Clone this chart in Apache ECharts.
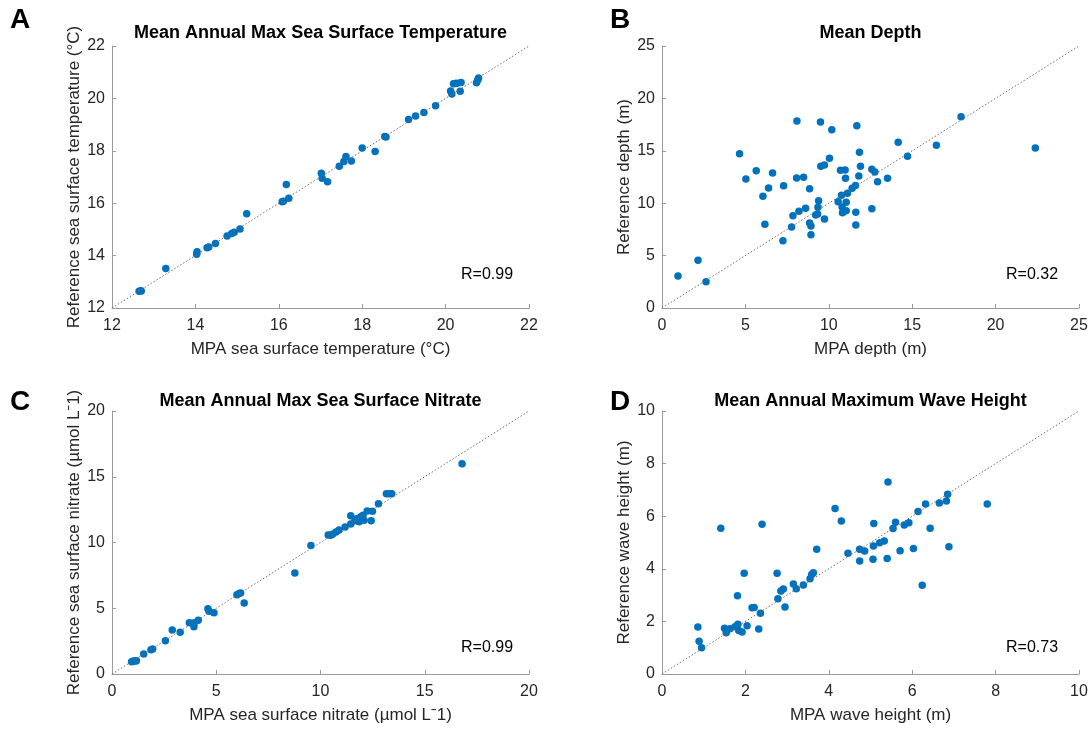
<!DOCTYPE html>
<html><head><meta charset="utf-8">
<script src="https://cdn.jsdelivr.net/npm/echarts@6/dist/echarts.min.js"></script>
<style>html,body{margin:0;padding:0;background:#fff}#c{width:1090px;height:729px}</style>
</head><body><div id="c"></div>
<script>
// ---------- Panel A: sea surface temperature ----------
const sstMPA = [12.65,12.69,12.70,13.29,14.03,14.04,14.28,14.32,14.48,14.76,14.87,14.93,15.07,15.23,16.08,16.11,16.24,16.18,17.02,17.04,17.17,17.45,17.56,17.61,17.74,18.00,18.31,18.54,18.57,19.11,19.28,19.48,19.76,20.12,20.15,20.19,20.23,20.27,20.37,20.35,20.74,20.79,20.77];
const sstRef = [12.64,12.66,12.65,13.51,14.05,14.15,14.30,14.33,14.46,14.75,14.84,14.89,15.02,15.60,16.06,16.07,16.19,16.71,17.14,16.95,16.82,17.41,17.59,17.78,17.61,18.11,17.97,18.55,18.53,19.19,19.33,19.46,19.72,20.28,20.17,20.56,20.57,20.58,20.61,20.27,20.60,20.78,20.70];
// ---------- Panel B: depth ----------
const depthMPA = [0.96,2.16,2.64,4.65,5.03,5.65,6.05,6.17,6.39,6.63,7.25,7.29,7.77,7.85,8.07,8.09,8.21,8.49,8.61,8.85,8.85,8.93,8.93,9.21,9.33,9.35,9.39,9.50,9.52,9.74,9.74,10.04,10.18,10.56,10.70,10.76,10.80,10.82,10.98,11.00,11.04,11.04,11.12,11.40,11.60,11.62,11.62,11.68,11.80,11.84,11.90,12.58,12.58,12.76,12.92,13.52,14.16,14.72,16.45,17.93,22.38];
const depthRef = [3.05,4.55,2.51,14.73,12.31,13.10,10.66,7.98,11.45,12.88,6.42,11.67,7.73,8.81,12.40,17.84,9.22,12.47,9.51,11.39,8.11,7.82,7.00,8.87,8.97,9.61,10.24,17.75,13.52,13.64,8.49,14.28,17.02,10.15,13.14,10.75,9.64,9.10,13.17,12.37,10.08,9.29,10.94,11.42,11.70,9.13,7.92,17.40,12.60,14.85,13.52,13.23,9.48,12.98,12.05,12.37,15.81,14.47,15.52,18.26,15.27];
// ---------- Panel C: nitrate ----------
const no3MPA = [0.94,1.02,1.12,1.17,1.52,1.87,1.95,2.56,2.89,3.27,3.71,3.93,3.95,4.14,4.60,4.65,4.89,5.99,6.10,6.17,6.34,8.77,9.54,10.37,10.48,10.58,10.74,10.89,11.18,11.45,11.45,11.65,11.73,11.85,11.93,12.04,12.09,12.24,12.43,12.49,12.78,13.16,13.28,13.42,16.79];
const no3Ref = [0.94,0.99,0.99,1.01,1.52,1.85,1.90,2.53,3.35,3.17,3.90,3.60,3.90,4.08,4.97,4.77,4.66,6.03,6.13,6.16,5.40,7.68,9.78,10.57,10.55,10.62,10.80,10.95,11.18,12.04,11.41,11.66,11.81,11.58,11.96,12.07,11.69,12.40,11.66,12.37,12.95,13.71,13.71,13.71,15.99];
// ---------- Panel D: wave height ----------
const waveMPA = [0.86,0.89,0.95,1.41,1.50,1.54,1.63,1.75,1.81,1.82,1.84,1.92,1.97,2.04,2.16,2.21,2.32,2.36,2.40,2.76,2.78,2.85,2.91,2.95,3.15,3.22,3.39,3.55,3.59,3.63,3.71,4.15,4.30,4.46,4.74,4.74,4.86,5.06,5.07,5.08,5.22,5.33,5.40,5.42,5.54,5.60,5.71,5.81,5.92,6.03,6.14,6.24,6.32,6.43,6.65,6.82,6.85,6.88,7.80];
const waveRef = [1.79,1.25,1.00,5.54,1.74,1.57,1.72,1.80,2.98,1.89,1.65,1.60,3.83,1.83,2.52,2.53,1.71,2.31,5.69,3.83,2.86,3.16,3.23,2.55,3.42,3.24,3.38,3.62,3.78,3.85,4.74,6.29,5.82,4.59,4.30,4.74,4.68,4.36,4.87,5.72,4.99,5.06,4.39,7.30,5.53,5.77,4.69,5.67,5.75,4.77,6.18,3.37,6.46,5.54,6.50,6.58,6.83,4.84,6.46];

// ---------- tick labels ----------
const ticksA = [12,14,16,18,20,22];
const ticksB = [0,5,10,15,20,25];
const ticksC = [0,5,10,15,20];
const ticksD = [0,2,4,6,8,10];

// ---------- texts ----------
const titles = ['Mean Annual Max Sea Surface Temperature','Mean Depth','Mean Annual Max Sea Surface Nitrate','Mean Annual Maximum Wave Height'];
const letters = ['A','B','C','D'];
const rLabels = ['R=0.99','R=0.32','R=0.99','R=0.73'];
const xNames = ['MPA sea surface temperature (°C)','MPA depth (m)','MPA sea surface nitrate (µmol L\u02C91)','MPA wave height (m)'];
const yNames = ['Reference sea surface temperature (°C)','Reference depth (m)','Reference sea surface nitrate (µmol L\u02C91)','Reference wave height (m)'];

const FONT = "'Liberation Sans', Arial, Helvetica, sans-serif";
const AXC = '#9a9a9a', TXC = '#262626';
const panels = [
  {x: sstMPA, y: sstRef, t: ticksA},
  {x: depthMPA, y: depthRef, t: ticksB},
  {x: no3MPA, y: no3Ref, t: ticksC},
  {x: waveMPA, y: waveRef, t: ticksD}
];
const gridBoxes = [
  {left: 112, top: 46, width: 417, height: 262},
  {left: 662, top: 46, width: 417, height: 262},
  {left: 112, top: 411, width: 417, height: 263},
  {left: 662, top: 411, width: 417, height: 263}
];

function axisCommon(t) {
  return {
    type: 'value', min: t[0], max: t[t.length - 1], interval: t[1] - t[0],
    splitLine: {show: false},
    axisLine: {show: true, onZero: false, lineStyle: {color: AXC, width: 1}},
    axisTick: {show: true, inside: true, length: 4, lineStyle: {color: AXC, width: 1}},
    axisLabel: {color: TXC, fontSize: 16, fontFamily: FONT, showMinLabel: true, showMaxLabel: true},
    nameLocation: 'middle',
    nameMoveOverlap: false,
    nameTextStyle: {color: TXC, fontSize: 17, fontFamily: FONT}
  };
}

const xAxis = [], yAxis = [], series = [], grid = [];
panels.forEach((p, i) => {
  grid.push(Object.assign({containLabel: false, outerBoundsMode: 'none'}, gridBoxes[i]));
  const xa = axisCommon(p.t);
  xa.gridIndex = i; xa.name = xNames[i]; xa.nameGap = 33;
  xa.axisLabel.margin = 10;
  xAxis.push(xa);
  const ya = axisCommon(p.t);
  ya.gridIndex = i; ya.name = yNames[i]; ya.nameGap = 29;
  ya.axisLabel.margin = 7;
  yAxis.push(ya);
  series.push({
    type: 'scatter', xAxisIndex: i, yAxisIndex: i,
    symbol: 'circle', symbolSize: 7.5,
    itemStyle: {color: '#0072BD', opacity: 1},
    data: p.x.map((v, k) => [v, p.y[k]]),
    z: 2, silent: true
  });
  const lo = p.t[0], hi = p.t[p.t.length - 1];
  series.push({
    type: 'line', xAxisIndex: i, yAxisIndex: i,
    data: [[lo, lo], [hi, hi]], symbol: 'none', silent: true,
    lineStyle: {color: '#6e6e6e', width: 1, type: [1.5, 2]},
    z: 3
  });
});

const titlePos = [[320.5, 33.5], [870.5, 33.5], [320.5, 401], [870.5, 401]];
const letterPos = [[10, 20], [610, 20], [10, 402], [610, 402]];
const rPos = [[461, 275], [1006, 275], [461, 648], [1006, 648]];
const graphic = [];
for (let i = 0; i < 4; i++) {
  graphic.push({type: 'text', x: titlePos[i][0], y: titlePos[i][1], style: {text: titles[i], font: 'bold 18px ' + FONT, fill: '#000', align: 'center', verticalAlign: 'middle'}});
  graphic.push({type: 'text', x: letterPos[i][0], y: letterPos[i][1], style: {text: letters[i], font: 'bold 28px ' + FONT, fill: '#000', align: 'left', verticalAlign: 'middle'}});
  graphic.push({type: 'text', x: rPos[i][0], y: rPos[i][1], style: {text: rLabels[i], font: '16px ' + FONT, fill: '#000', align: 'left', verticalAlign: 'middle'}});
}

const chart = echarts.init(document.getElementById('c'), null, {renderer: 'canvas'});
chart.setOption({
  animation: false,
  backgroundColor: '#fff',
  grid, xAxis, yAxis, series, graphic
});
</script>
</body></html>
